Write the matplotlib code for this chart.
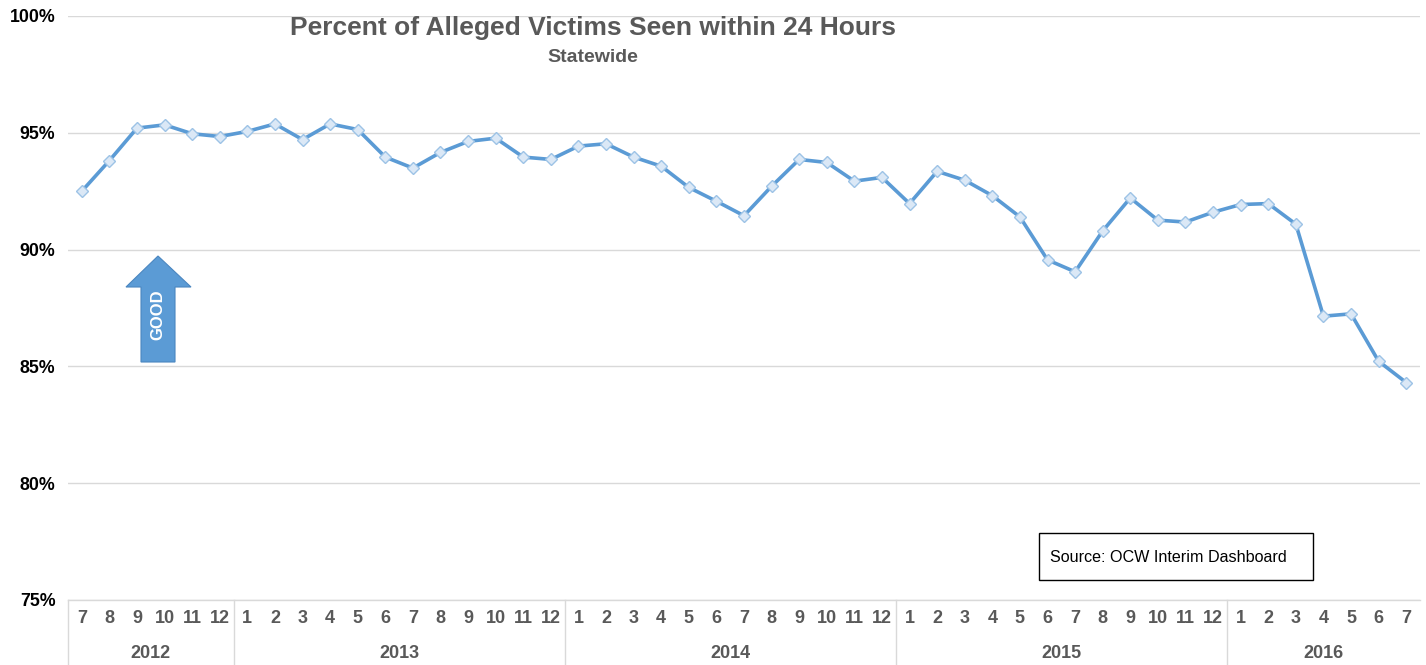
import matplotlib
matplotlib.use("Agg")
import matplotlib.pyplot as plt
from matplotlib.patches import Polygon, Rectangle
from matplotlib.lines import Line2D
import matplotlib.transforms as mtransforms

plt.rcParams['font.family'] = ['Liberation Sans', 'DejaVu Sans']

# ---- data ----
months = [7, 8, 9, 10, 11, 12] + list(range(1, 13)) * 3 + [1, 2, 3, 4, 5, 6, 7]
years = ["2012", "2013", "2014", "2015", "2016"]
year_counts = [6, 12, 12, 12, 7]
values = [92.50, 93.81, 95.20, 95.34, 94.96, 94.84,
          95.06, 95.38, 94.71, 95.38, 95.14, 93.96, 93.49, 94.16, 94.63, 94.77, 93.96, 93.86,
          94.43, 94.53, 93.96, 93.57, 92.66, 92.07, 91.45, 92.71, 93.86, 93.73, 92.93, 93.09,
          91.97, 93.35, 92.97, 92.31, 91.40, 89.56, 89.05, 90.80, 92.21, 91.26, 91.18, 91.60,
          91.93, 91.97, 91.09, 87.15, 87.25, 85.22, 84.31]
yticks = [75, 80, 85, 90, 95, 100]
ytick_labels = ["75%", "80%", "85%", "90%", "95%", "100%"]

W, H = 1426, 665
fig = plt.figure(figsize=(W / 100, H / 100), dpi=100)
ax = fig.add_axes([68 / W, 1 - 600 / H, (1420 - 68) / W, (600 - 16) / H])

x = list(range(len(values)))
ax.plot(x, values, color='#5b9bd5', lw=2.6, zorder=3,
        marker='D', markersize=6, markerfacecolor='#dbe8f6',
        markeredgecolor='#9dc3e6', markeredgewidth=1.0)

ax.set_xlim(-0.5, len(values) - 0.5)
ax.set_ylim(75, 100)
ax.set_yticks(yticks)
ax.set_yticklabels(ytick_labels, fontsize=12.8, fontweight='bold', color='black')
ax.tick_params(axis='y', length=0, pad=9)
ax.grid(axis='y', color='#d9d9d9', lw=1.0)
ax.set_axisbelow(True)
for s in ['left', 'right', 'top']:
    ax.spines[s].set_visible(False)
ax.spines['bottom'].set_color('#d9d9d9')
ax.spines['bottom'].set_linewidth(1.0)

ax.set_xticks(x)
ax.set_xticklabels([str(m) for m in months], fontsize=13, fontweight='bold', color='#595959')
ax.tick_params(axis='x', length=0, pad=7)

# year labels and separators
trans = mtransforms.blended_transform_factory(ax.transData, ax.transAxes)
start = 0
bounds = [-0.5]
for yr, cnt in zip(years, year_counts):
    center = start + (cnt - 1) / 2
    ax.text(center, -0.091, yr, transform=trans, ha='center', va='center',
            fontsize=13, fontweight='bold', color='#595959')
    start += cnt
    bounds.append(start - 0.5)
for b in bounds[:-1]:
    ax.add_line(Line2D([b, b], [0, -0.12], transform=trans, color='#d9d9d9',
                       lw=1.0, clip_on=False))

# GOOD arrow
def fx(px):
    return (px - 68) / (1420 - 68)
def fy(py):
    return (600 - py) / (600 - 16)
arrow = Polygon([(fx(141), fy(362)), (fx(175), fy(362)), (fx(175), fy(287)),
                 (fx(191), fy(287)), (fx(158), fy(256)), (fx(126), fy(287)),
                 (fx(141), fy(287))], closed=True, transform=ax.transAxes,
                facecolor='#5b9bd5', edgecolor='#4a86c0', lw=0.8, zorder=4)
ax.add_patch(arrow)
ax.text(fx(158), fy(315), "GOOD", transform=ax.transAxes, rotation=90,
        ha='center', va='center', color='white', fontsize=12, fontweight='bold', zorder=5)

# Source box
fig.patches.append(Rectangle((1039 / W, 1 - 580 / H), (1313 - 1039) / W, (580 - 533) / H,
                             transform=fig.transFigure, facecolor='white',
                             edgecolor='black', lw=1.0))
fig.text(1050 / W, 1 - 557 / H, "Source: OCW Interim Dashboard", ha='left', va='center',
         fontsize=11.6, color='black')

# titles
fig.text(593 / W, 1 - 28 / H, "Percent of Alleged Victims Seen within 24 Hours",
         ha='center', va='center', fontsize=19, fontweight='bold', color='#595959')
fig.text(593 / W, 1 - 57 / H, "Statewide", ha='center', va='center',
         fontsize=14, fontweight='bold', color='#595959')

fig.savefig("out.png", dpi=100)
